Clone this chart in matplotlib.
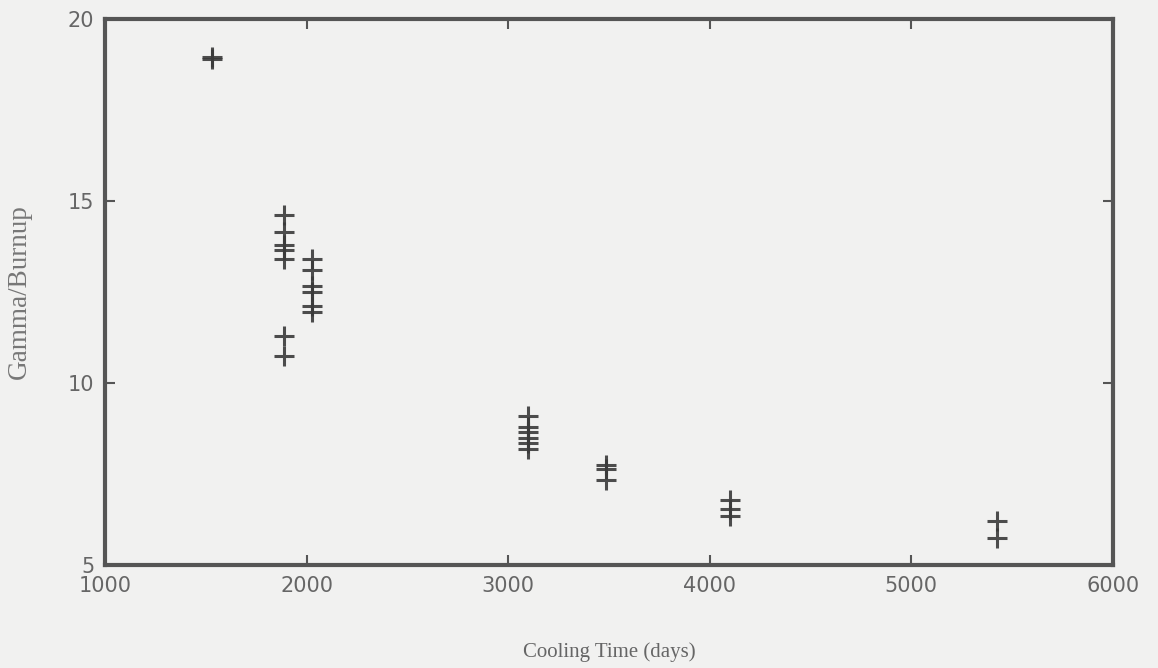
import matplotlib.pyplot as plt

# cooling time (days) and gamma/burnup
cooling_time = [1530, 1530,
                1888, 1888, 1888, 1888, 1888, 1888, 1888,
                2027, 2027, 2027, 2027, 2027, 2027,
                3098, 3098, 3098, 3098, 3098, 3098,
                3485, 3485, 3485,
                4100, 4100, 4100,
                5425, 5425]
gamma_burnup = [18.9, 18.95,
                14.6, 14.15, 13.8, 13.65, 13.4, 11.3, 10.75,
                13.4, 13.1, 12.65, 12.5, 12.1, 11.95,
                9.1, 8.8, 8.65, 8.5, 8.35, 8.2,
                7.75, 7.65, 7.35,
                6.8, 6.55, 6.35,
                6.2, 5.75]

xticks = [1000, 2000, 3000, 4000, 5000, 6000]
yticks = [5, 10, 15, 20]

bg = '#f1f1f0'

fig = plt.figure(figsize=(11.58, 6.68), dpi=100, facecolor=bg)
ax = fig.add_axes([0.091, 0.154, 0.870, 0.818], facecolor=bg)

ax.plot(cooling_time, gamma_burnup, linestyle='none', marker='+',
        markersize=14, markeredgewidth=2.2, color='#3a3a3a', alpha=0.9)

ax.set_xlim(1000, 6000)
ax.set_ylim(5, 20)
ax.set_xticks(xticks)
ax.set_yticks(yticks)
ax.set_xticklabels([str(t) for t in xticks])

for s in ax.spines.values():
    s.set_linewidth(3)
    s.set_color('#555555')

ax.tick_params(direction='in', length=7, width=1.5, colors='#555555',
               top=True, right=True, labelsize=15, labelcolor='#666666', pad=8)
for lab in ax.get_xticklabels() + ax.get_yticklabels():
    lab.set_family('DejaVu Sans')

ax.set_xlabel('Cooling Time (days)', family='Liberation Serif', fontsize=15,
              color='#666666', labelpad=33)
ax.set_ylabel('Gamma/Burnup', family='Liberation Serif', fontsize=19.5,
              color='#777777', labelpad=26)

fig.savefig('out.png', dpi=100, facecolor=bg)
